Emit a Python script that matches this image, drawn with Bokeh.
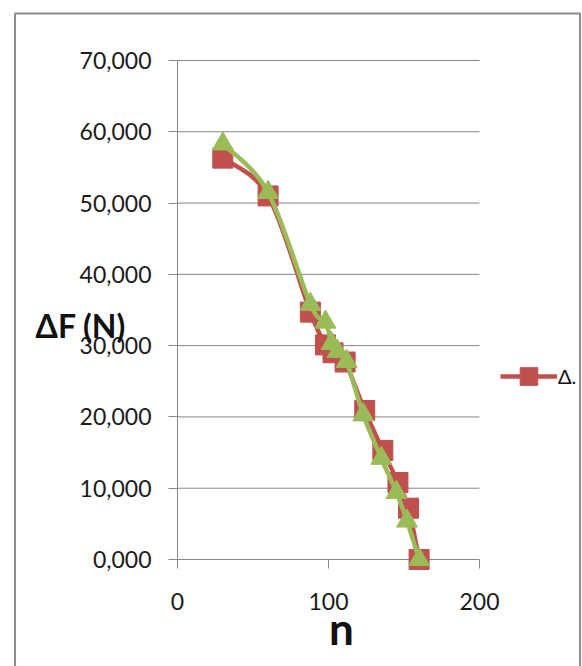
import numpy as np
from bokeh.plotting import figure
from bokeh.models import (Range1d, FixedTicker, Legend, LegendItem,
                          ColumnDataSource)
from bokeh.core.properties import value
from bokeh.embed import file_html
from bokeh.resources import INLINE

# ---- data ---------------------------------------------------------------
n_red = [30, 60, 88, 98, 103, 111, 124, 136, 146, 153, 160]
dF_red = [56.3, 51.0, 34.7, 30.1, 29.0, 27.7, 20.9, 15.3, 10.8, 7.2, 0.0]

n_green = [30, 60, 88, 98, 102, 106, 112, 123, 135, 145, 152, 160]
dF_green = [58.3, 51.5, 35.8, 33.3, 30.3, 29.2, 27.8, 20.3, 14.2, 9.4, 5.4, 0.0]

x_ticks = [0, 100, 200]
x_tick_labels = ["0", "100", "200"]
y_ticks = [0, 10, 20, 30, 40, 50, 60, 70]
y_tick_labels = ["0,000", "10,000", "20,000", "30,000",
                 "40,000", "50,000", "60,000", "70,000"]

RED = "#C0504D"
GREEN = "#9BBB59"
GRID = "#868686"
FONT = "Lato"


def smooth_segments(xs, ys):
    """Cubic Bezier pieces through the points (Catmull-Rom style smoothing)."""
    P = np.column_stack([xs, ys]).astype(float)
    prev = np.vstack([P[:1], P[:-1]])
    nxt = np.vstack([P[1:], P[-1:]])
    tangent = (nxt - prev) / 6.0
    start, end = P[:-1], P[1:]
    c0 = start + tangent[:-1]
    c1 = end - tangent[1:]
    return ColumnDataSource(dict(
        x0=start[:, 0], y0=start[:, 1], x1=end[:, 0], y1=end[:, 1],
        cx0=c0[:, 0], cy0=c0[:, 1], cx1=c1[:, 0], cy1=c1[:, 1]))


# The frame reaches the chart's right and top border; the axes are bounded
# to the 0..200 / 0..70 plot area and the legend sits in the free space.
p = figure(width=582, height=666, output_backend="svg", toolbar_location=None,
           x_range=Range1d(0, 266.9), y_range=Range1d(0, 76.73),
           min_border_left=177, min_border_right=2,
           min_border_top=12, min_border_bottom=107)
p.outline_line_color = None
p.background_fill_color = "white"
p.border_fill_color = "white"
p.xgrid.grid_line_color = None
p.ygrid.grid_line_color = None

# ---- axes ---------------------------------------------------------------
for ax in (p.xaxis[0], p.yaxis[0]):
    ax.axis_line_color = GRID
    ax.major_tick_line_color = GRID
    ax.major_tick_out = 9
    ax.major_tick_in = 0
    ax.minor_tick_line_color = None
    ax.major_label_text_font = FONT
    ax.major_label_text_font_size = "23px"
    ax.major_label_text_color = "#1a1a1a"

p.xaxis[0].ticker = FixedTicker(ticks=x_ticks)
p.xaxis[0].major_label_overrides = dict(zip(x_ticks, x_tick_labels))
p.xaxis[0].major_label_standoff = 24
p.xaxis[0].bounds = (x_ticks[0], x_ticks[-1])

p.yaxis[0].ticker = FixedTicker(ticks=y_ticks)
p.yaxis[0].major_label_overrides = dict(zip(y_ticks, y_tick_labels))
p.yaxis[0].major_label_standoff = 17
p.yaxis[0].bounds = (y_ticks[0], y_ticks[-1])

# horizontal gridlines across the plot area only
p.segment(x0=x_ticks[0], x1=x_ticks[-1], y0=y_ticks[1:], y1=y_ticks[1:],
          line_color=GRID, line_width=1, level="underlay")

# ---- outer chart border ---------------------------------------------------
p.quad(left=[-107.6], right=[266.6], top=[76.6], bottom=[-40],
       fill_alpha=0, line_color="#8c8c8c", line_width=2, level="overlay")

# ---- series -------------------------------------------------------------
red_curve = p.bezier(x0="x0", y0="y0", x1="x1", y1="y1",
                     cx0="cx0", cy0="cy0", cx1="cx1", cy1="cy1",
                     source=smooth_segments(n_red, dF_red),
                     line_color=RED, line_width=4.5, level="overlay")
red_pts = p.scatter(n_red, dF_red, marker="square", size=20,
                    fill_color=RED, line_color=RED, level="overlay")

green_curve = p.bezier(x0="x0", y0="y0", x1="x1", y1="y1",
                       cx0="cx0", cy0="cy0", cx1="cx1", cy1="cy1",
                       source=smooth_segments(n_green, dF_green),
                       line_color=GREEN, line_width=4.5, level="overlay")
green_pts = p.scatter(n_green, dF_green, marker="triangle", size=21,
                      fill_color=GREEN, line_color=GREEN, level="overlay")

# ---- axis titles ----------------------------------------------------------
p.text(x=[-94], y=[32.8], text=["ΔF (N)"], text_font=value(FONT),
       text_font_size="32px", text_font_style="bold", text_color="#111111",
       text_align="left", text_baseline="middle", level="overlay")
p.text(x=[108.6], y=[-9.6], text=["n"], text_font=value(FONT),
       text_font_size="44px", text_font_style="bold", text_color="#111111",
       text_align="center", text_baseline="middle", level="overlay")

# ---- legend ---------------------------------------------------------------
legend = Legend(items=[LegendItem(label="Δ.", renderers=[red_curve, red_pts])],
                location=(323, 161), glyph_width=57, glyph_height=44,
                label_standoff=1, padding=0, margin=0, spacing=0,
                border_line_color=None, background_fill_alpha=0,
                label_text_font=FONT, label_text_font_size="20px",
                label_text_color="#111111")
p.add_layout(legend)

open("out.html", "w").write(file_html(p, INLINE))
